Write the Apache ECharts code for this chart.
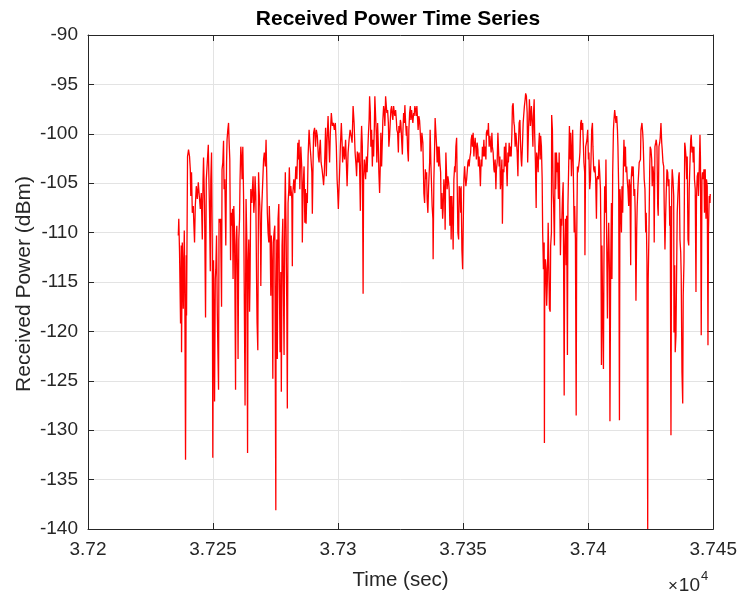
<!DOCTYPE html>
<html>
<head>
<meta charset="utf-8">
<script src="https://cdn.jsdelivr.net/npm/echarts@6/dist/echarts.min.js"></script>
<style>html,body{margin:0;padding:0;background:#fff}#c{width:740px;height:596px}</style>
</head>
<body>
<div id="c"></div>
<script>
const titleText = 'Received Power Time Series';
const xName = 'Time (sec)';
const yName = 'Received Power (dBm)';
const xMin = 37200, xMax = 37450, xStep = 50;
const yMin = -140, yMax = -90, yStep = 5;
const xExponent = 4;

const timeSec = [
37236.1,37236.3,37236.6,37237.0,37237.3,37237.4,37237.7,37237.9,37238.1,37238.5,
37238.7,37239.0,37239.3,37239.4,37239.8,37240.2,37240.6,37240.9,37241.1,37241.4,
37241.7,37242.1,37242.3,37242.6,37242.9,37243.3,37243.7,37244.1,37244.5,37244.9,
37245.3,37245.7,37246.0,37246.2,37246.6,37247.0,37247.3,37247.7,37248.1,37248.3,
37248.6,37248.9,37249.1,37249.4,37249.7,37249.9,37250.2,37250.5,37250.6,37250.9,
37251.1,37251.4,37251.7,37251.9,37252.2,37252.4,37252.7,37253.0,37253.4,37253.6,
37253.9,37254.2,37254.4,37254.7,37255.1,37255.4,37255.6,37255.9,37256.2,37256.4,
37256.7,37257.0,37257.2,37257.5,37257.8,37258.0,37258.3,37258.6,37259.0,37259.2,
37259.5,37259.8,37260.0,37260.3,37260.6,37260.8,37261.1,37261.4,37261.6,37261.9,
37262.2,37262.4,37262.8,37263.1,37263.2,37263.5,37263.8,37264.0,37264.3,37264.6,
37264.8,37265.1,37265.5,37265.8,37266.0,37266.3,37266.6,37266.8,37267.1,37267.4,
37267.6,37267.9,37268.2,37268.4,37268.7,37269.0,37269.1,37269.4,37269.8,37270.2,
37270.5,37270.9,37271.2,37271.5,37271.7,37272.0,37272.3,37272.5,37272.8,37273.1,
37273.3,37273.6,37273.9,37274.1,37274.4,37274.7,37274.9,37275.1,37275.2,37275.5,
37275.7,37276.0,37276.3,37276.5,37276.8,37277.1,37277.3,37277.6,37277.9,37278.1,
37278.4,37278.7,37278.9,37279.2,37279.5,37279.7,37280.0,37280.3,37280.5,37280.8,
37281.1,37281.5,37281.7,37281.9,37282.3,37282.7,37283.1,37283.5,37283.9,37284.1,
37284.4,37284.7,37285.1,37285.5,37285.7,37286.0,37286.4,37286.7,37286.9,37287.2,
37287.5,37287.7,37288.0,37288.4,37288.8,37289.1,37289.5,37289.7,37290.0,37290.2,
37290.6,37291.0,37291.3,37291.7,37292.1,37292.4,37292.6,37292.9,37293.2,37293.6,
37294.0,37294.2,37294.5,37294.8,37295.0,37295.3,37295.6,37296.0,37296.2,37296.6,
37296.9,37297.3,37297.7,37298.1,37298.5,37298.9,37299.3,37299.6,37299.8,37300.1,
37300.4,37300.6,37300.9,37301.3,37301.6,37301.8,37302.2,37302.6,37303.0,37303.3,
37303.6,37304.0,37304.4,37304.8,37305.2,37305.6,37306.0,37306.4,37306.8,37307.2,
37307.4,37307.7,37308.1,37308.4,37308.6,37308.9,37309.2,37309.4,37309.7,37310.0,
37310.2,37310.5,37310.8,37311.0,37311.3,37311.6,37311.8,37312.1,37312.4,37312.6,
37312.9,37313.1,37313.4,37313.7,37313.9,37314.2,37314.5,37314.7,37315.0,37315.3,
37315.5,37315.8,37316.1,37316.3,37316.6,37316.9,37317.1,37317.4,37317.7,37317.9,
37318.2,37318.5,37318.7,37319.0,37319.3,37319.5,37319.8,37320.1,37320.3,37320.6,
37320.9,37321.1,37321.4,37321.7,37321.9,37322.2,37322.5,37322.7,37323.0,37323.3,
37323.5,37323.8,37324.1,37324.3,37324.6,37324.9,37325.1,37325.4,37325.7,37325.9,
37326.2,37326.5,37326.7,37327.0,37327.3,37327.5,37327.8,37328.1,37328.3,37328.6,
37328.9,37329.1,37329.4,37329.6,37329.9,37330.2,37330.4,37330.7,37331.0,37331.2,
37331.5,37331.8,37332.0,37332.3,37332.6,37332.8,37333.2,37333.5,37333.9,37334.3,
37334.6,37334.9,37335.1,37335.4,37335.6,37335.9,37336.2,37336.6,37336.8,37337.1,
37337.4,37337.6,37337.9,37338.0,37338.3,37338.6,37338.8,37339.1,37339.4,37339.6,
37339.9,37340.2,37340.4,37340.7,37341.0,37341.2,37341.5,37341.8,37342.0,37342.3,
37342.6,37342.8,37343.1,37343.4,37343.6,37343.9,37344.2,37344.4,37344.7,37345.0,
37345.2,37345.5,37345.8,37346.0,37346.3,37346.6,37346.8,37347.1,37347.4,37347.6,
37347.9,37348.2,37348.4,37348.7,37349.0,37349.2,37349.5,37349.8,37350.0,37350.3,
37350.6,37350.8,37351.1,37351.4,37351.6,37351.9,37352.2,37352.4,37352.7,37353.0,
37353.2,37353.5,37353.7,37354.0,37354.3,37354.5,37354.8,37355.1,37355.3,37355.6,
37355.9,37356.1,37356.4,37356.7,37356.9,37357.2,37357.5,37357.7,37358.0,37358.3,
37358.5,37358.8,37359.1,37359.3,37359.6,37359.9,37360.1,37360.4,37360.7,37360.9,
37361.2,37361.5,37361.7,37362.0,37362.3,37362.5,37362.8,37363.1,37363.3,37363.6,
37363.9,37364.1,37364.4,37364.7,37364.9,37365.2,37365.5,37365.7,37366.0,37366.3,
37366.5,37366.8,37367.1,37367.3,37367.6,37367.9,37368.1,37368.4,37368.7,37368.9,
37369.2,37369.5,37369.7,37370.0,37370.3,37370.5,37370.8,37371.1,37371.3,37371.6,
37371.9,37372.1,37372.4,37372.7,37372.9,37373.2,37373.4,37373.7,37374.0,37374.2,
37374.5,37374.8,37375.0,37375.3,37375.6,37375.8,37376.1,37376.4,37376.5,37376.9,
37377.3,37377.6,37377.9,37378.1,37378.4,37378.6,37378.9,37379.2,37379.4,37379.7,
37380.0,37380.2,37380.5,37380.8,37381.0,37381.3,37381.6,37381.8,37382.1,37382.4,
37382.5,37382.6,37382.9,37383.2,37383.4,37383.7,37384.0,37384.2,37384.5,37384.8,
37385.0,37385.3,37385.4,37385.7,37386.0,37386.2,37386.5,37386.8,37387.0,37387.3,
37387.6,37387.8,37388.1,37388.4,37388.6,37388.9,37389.2,37389.4,37389.7,37390.0,
37390.2,37390.4,37390.6,37390.9,37391.2,37391.4,37391.7,37391.9,37392.2,37392.5,
37392.8,37393.0,37393.3,37393.6,37393.8,37394.1,37394.4,37394.6,37394.9,37395.2,
37395.4,37395.7,37395.9,37396.2,37396.5,37396.7,37397.0,37397.3,37397.5,37397.8,
37398.1,37398.3,37398.6,37398.7,37399.0,37399.3,37399.5,37399.8,37400.1,37400.3,
37400.6,37400.9,37401.1,37401.4,37401.7,37401.9,37402.2,37402.5,37402.7,37403.0,
37403.3,37403.5,37403.8,37404.1,37404.3,37404.6,37404.9,37405.1,37405.3,37405.5,
37405.8,37406.1,37406.3,37406.6,37406.9,37407.1,37407.4,37407.7,37407.9,37408.2,
37408.5,37408.7,37409.0,37409.3,37409.5,37409.8,37410.1,37410.3,37410.6,37410.9,
37411.1,37411.4,37411.7,37411.9,37412.2,37412.5,37412.7,37413.0,37413.3,37413.5,
37413.8,37414.1,37414.3,37414.6,37414.9,37415.1,37415.4,37415.6,37415.9,37416.2,
37416.4,37416.7,37417.0,37417.2,37417.5,37417.8,37418.0,37418.3,37418.6,37418.8,
37419.1,37419.4,37419.6,37419.9,37420.2,37420.4,37420.9,37421.1,37421.5,37421.8,
37422.0,37422.4,37422.7,37423.0,37423.2,37423.5,37423.8,37424.0,37424.3,37424.6,
37424.8,37425.1,37425.4,37425.6,37425.9,37426.2,37426.4,37426.7,37427.0,37427.2,
37427.5,37427.8,37428.0,37428.3,37428.6,37428.8,37429.1,37429.4,37429.6,37429.9,
37430.2,37430.4,37430.7,37431.0,37431.2,37431.5,37431.8,37432.0,37432.3,37432.6,
37432.8,37433.1,37433.4,37433.6,37433.9,37434.2,37434.3,37434.6,37434.8,37435.1,
37435.4,37435.6,37435.9,37436.2,37436.4,37436.7,37437.0,37437.2,37437.5,37437.8,
37438.0,37438.3,37438.6,37438.8,37439.1,37439.4,37439.6,37439.9,37440.2,37440.4,
37440.7,37441.0,37441.2,37441.5,37441.8,37442.0,37442.3,37442.5,37442.8,37443.1,
37443.3,37443.6,37443.9,37444.1,37444.4,37444.7,37444.9,37445.2,37445.5,37445.7,
37446.0,37446.3,37446.5,37446.8,37447.1,37447.3,37447.6,37447.9,37448.1,37448.4,
37448.7,37448.8
];

const powerDbm = [
-110.3,-108.6,-112,-119.2,-111.3,-122.1,-111,-113.3,-117.7,-109.8,
-115.4,-133,-112.3,-118.4,-102.3,-101.6,-102.3,-103.6,-106.3,-103.9,
-108,-107.3,-109,-111,-107.3,-105.3,-106.6,-104.9,-106.3,-107.6,
-106,-110.7,-104.6,-102.4,-107.3,-118.6,-104.6,-102.9,-101.1,-103.9,
-108,-113.9,-104.6,-101.9,-111.7,-132.8,-112.8,-122.4,-127.1,-114.7,
-113.7,-110.3,-118,-121.4,-125.9,-108.6,-109,-108.6,-117.5,-103.6,
-102.9,-100.7,-105.6,-104.6,-111.3,-102.9,-100.6,-99.6,-98.9,-100.6,
-102.6,-112.8,-108,-109.3,-107.6,-114.7,-107.3,-110,-125.9,-111.3,
-109.3,-114.7,-122.8,-110.7,-108.6,-104.6,-101.3,-102.6,-104.6,-101.3,
-106.3,-113.3,-127.5,-111.3,-106.6,-110.7,-132.3,-113.3,-110.7,-118,
-114.7,-105.6,-107,-105.3,-104.3,-108,-106.6,-104.3,-106.3,-114.7,
-119.1,-121.9,-103.9,-105.6,-107.3,-111.3,-115.4,-108,-105.3,-102.6,
-101.9,-103.3,-100.6,-104.6,-108,-110,-111,-107.3,-110.3,-116.4,
-110.3,-113.3,-124.8,-111,-110,-109.3,-124.8,-138.1,-118,-110.7,
-122.8,-108.6,-107.1,-114.7,-122.1,-114,-126.1,-111.3,-108.6,-114.7,
-122.4,-107.6,-103.9,-109.7,-118,-127.8,-107,-105.6,-103.4,-106.3,
-105.3,-106.6,-113.4,-106,-104.6,-106,-103.3,-104.6,-100.9,-102.6,
-100.6,-105.6,-101.3,-103.6,-111,-105.3,-103.3,-109,-105.6,-109.1,
-106,-107,-102.3,-99.6,-101.3,-102.3,-103.9,-108.1,-102.9,-99.9,
-99.4,-101.3,-99.6,-100.2,-102.3,-102.9,-101.6,-100.6,-102.9,-103.6,
-104.6,-105.2,-103.9,-101.3,-99.4,-104.3,-100.6,-98.2,-100.2,-102.9,
-99.9,-97.9,-99.2,-98.9,-99.6,-98.9,-101.3,-104.6,-105.6,-107.6,
-105.3,-103.9,-101.3,-98.9,-100.9,-102.9,-101.3,-102.6,-100.6,-102.9,
-105.3,-101.9,-100.6,-99.6,-100.2,-100.9,-97.2,-98.9,-101.9,-103.3,
-104.3,-101.8,-102.9,-101.9,-103.4,-107.8,-100.9,-99.2,-101.3,-116.2,
-104.6,-102.6,-103.6,-104.6,-102.3,-103.9,-102.3,-100.2,-98.6,-96.2,
-97.9,-101.3,-99.6,-103.3,-100.6,-102.3,-99.2,-96.2,-96.2,-100.2,
-102.9,-98.9,-101.3,-103.9,-106,-102.9,-99.9,-103.3,-100.6,-98.6,
-97.2,-97.9,-99.2,-96.2,-96,-97.9,-97.6,-98.9,-101.3,-100.2,
-98.6,-97.6,-97.2,-98.2,-98.6,-97.2,-97.9,-98.2,-97.6,-98.6,
-99.6,-99.9,-101.9,-99.2,-99.9,-98.6,-98.9,-100.6,-102.1,-99.9,
-97.9,-98.9,-97.1,-98.9,-100.2,-99.2,-101.6,-102.8,-99.6,-97.9,
-97.2,-98.6,-97.6,-98.2,-98.9,-97.9,-98.2,-97.2,-97.6,-98.2,
-97.2,-98.6,-99.6,-98.2,-98.7,-99.6,-101.8,-99.9,-100.9,-106,
-107,-103.6,-104.6,-103.9,-106.6,-108,-105.3,-102.9,-99.6,-102.9,
-102.9,-107.3,-108.6,-112.7,-104.6,-101.3,-98.4,-98.6,-101.3,-102.9,
-101.3,-103.3,-101.3,-102.9,-103.9,-107.6,-106,-108.6,-107.6,-104.6,
-106,-109.7,-101.9,-104.3,-105.6,-104.3,-104.9,-105.6,-109.3,-106.3,
-110.7,-106.3,-108.6,-111.7,-104.6,-103.3,-103.9,-101.3,-100.4,-104.6,
-110,-110.7,-105.3,-105.6,-108,-105.3,-111.7,-113.7,-110,-104.6,
-103.3,-104.3,-105.3,-104.6,-103.9,-102.9,-102.6,-103.3,-102.4,-101.9,
-100.6,-100.1,-101.3,-99.9,-102.3,-101.3,-100.4,-101.6,-102.6,-100.9,
-101.6,-103.3,-102.3,-103.9,-105.3,-102.6,-103.3,-101.3,-102.3,-100.6,
-102.3,-101.3,-102.6,-99.9,-99.6,-100.2,-98.9,-101.3,-100.2,-100.9,
-101.9,-99.9,-101.3,-101.9,-103.6,-103.9,-102.6,-105.6,-103.6,-102.9,
-99.9,-101.3,-103.3,-102.3,-105.6,-104.6,-102.6,-109.1,-103.6,-103.9,
-101.3,-103.3,-100.9,-102.9,-105.3,-101.9,-102.9,-100.9,-102.3,-101.3,
-102.3,-99.9,-97.2,-96.9,-98.9,-99.2,-101.3,-99.9,-100.6,-101.9,
-104.3,-101.3,-98.9,-98.6,-100.6,-102.6,-103.3,-101.3,-98.9,-98.2,
-97.2,-96.5,-95.9,-96.2,-97.9,-102.9,-99.9,-97.6,-96.5,-99.2,
-97.2,-98.9,-101.3,-98.2,-96.5,-99.9,-102.9,-107.5,-101.9,-102.6,
-103.9,-101.3,-99.9,-102.6,-100.2,-101.3,-104.6,-110,-113.7,-111,
-131.3,-117.7,-112.7,-113.7,-117.4,-114.7,-109,-112,-117.7,-118,
-111.3,-110,-98.1,-99.6,-106,-107.3,-111.3,-101.9,-105.6,-101.9,
-103.9,-102.9,-106.6,-101.9,-106.3,-112.3,-108.6,-109.3,-106.6,-104.9,
-114.7,-126.5,-112,-108.6,-113.3,-108.3,-122.4,-107.3,-103.3,-99.2,
-102.6,-99.9,-104.3,-101.3,-99.6,-104.6,-110,-107.3,-110.7,-128.5,
-111,-103.3,-103.9,-103.3,-102.6,-101.9,-98.9,-98.6,-99.6,-98.9,
-101.3,-102.9,-103.9,-112.3,-101.3,-100.9,-100.6,-99.6,-102.6,-101.9,
-105.6,-104.6,-102.9,-99.6,-98.9,-101.3,-103.6,-103.9,-103.3,-104.6,
-108.6,-104.6,-104.3,-104.6,-102.6,-103.9,-105.6,-110.7,-123.4,-111.3,
-118,-123.8,-113,-105.3,-108,-102.6,-110.7,-118.7,-113,-109,
-114,-129.1,-113.3,-107,-114.7,-103.9,-99.6,-98.6,-97.6,-97.4,
-98.9,-98.2,-99.6,-101.3,-105.6,-129,-105.6,-107.3,-110,-105.3,
-108,-102.9,-100.6,-103.3,-101.3,-103.9,-103.3,-104.6,-105.6,-107.3,
-104.6,-105.3,-113.3,-104.6,-103.3,-104.3,-103.3,-106.3,-105.6,-108,
-116.9,-109.7,-107.3,-105.3,-103.9,-102.9,-102.6,-99.6,-98.9,-99.9,
-100.9,-104.6,-105.6,-110,-108,-113,-140,-114.7,-110,-103.6,
-101.3,-101.6,-102.6,-105.3,-103.3,-104.3,-111,-101.3,-100.9,-100.6,
-101.3,-107.3,-108.3,-101.3,-100.9,-100.4,-98.9,-100.9,-101.6,-102.9,
-103.3,-107.3,-111.7,-108,-106,-103.6,-103.9,-105.3,-104.6,-109.3,
-107.3,-130.5,-105.6,-103.6,-104.6,-106.3,-120.1,-113.3,-122.1,-120.4,
-113,-108,-106,-104.3,-103.9,-110.7,-112,-114.4,-124.1,-127.3,
-116.4,-113,-100.9,-101.3,-102.3,-104.6,-102.3,-110.7,-111.3,-105.6,
-102.9,-100.6,-100.1,-101.9,-101.3,-102.9,-101.3,-104.6,-105.6,-116,
-106.6,-104.3,-103.9,-106.3,-103.6,-100.1,-102.6,-120.4,-104.6,-103.9,
-104.6,-103.6,-108,-103.6,-108.6,-104.6,-105.3,-121.4,-109.7,-106.3,
-107,-106.1
];

const seriesData = timeSec.map((t, i) => [t, powerDbm[i]]);
const FONT = "'Liberation Sans', Arial, Helvetica, sans-serif";
const INK = '#262626';

function fmtX(v) {
  return String(parseFloat((v / Math.pow(10, xExponent)).toFixed(4)));
}

const chart = echarts.init(document.getElementById('c'), null, {renderer: 'canvas'});
const commonX = {type: 'value', min: xMin, max: xMax, interval: xStep};
const commonY = {type: 'value', min: yMin, max: yMax, interval: yStep};
chart.setOption({
  animation: false,
  backgroundColor: '#ffffff',
  grid: {left: 88, right: 26, top: 35, bottom: 65, containLabel: false},
  xAxis: [
    Object.assign({}, commonX, {
      position: 'bottom',
      name: xName, nameLocation: 'middle', nameGap: 41,
      nameTextStyle: {fontFamily: FONT, fontSize: 20.5, color: INK},
      axisLine: {show: true, lineStyle: {color: INK, width: 1}},
      axisTick: {show: true, inside: true, length: 6, lineStyle: {color: INK}},
      axisLabel: {formatter: fmtX, fontFamily: FONT, fontSize: 19, color: INK, margin: 11},
      splitLine: {show: true, lineStyle: {color: '#e3e3e3', width: 1}}
    }),
    Object.assign({}, commonX, {
      position: 'top',
      axisLine: {show: true, lineStyle: {color: INK, width: 1}},
      axisTick: {show: true, inside: true, length: 6, lineStyle: {color: INK}},
      axisLabel: {show: false},
      splitLine: {show: false}
    })
  ],
  yAxis: [
    Object.assign({}, commonY, {
      position: 'left',
      axisLine: {show: true, lineStyle: {color: INK, width: 1}},
      axisTick: {show: true, inside: true, length: 6, lineStyle: {color: INK}},
      axisLabel: {fontFamily: FONT, fontSize: 19, color: INK, margin: 10},
      splitLine: {show: true, lineStyle: {color: '#e3e3e3', width: 1}}
    }),
    Object.assign({}, commonY, {
      position: 'right',
      axisLine: {show: true, lineStyle: {color: INK, width: 1}},
      axisTick: {show: true, inside: true, length: 6, lineStyle: {color: INK}},
      axisLabel: {show: false},
      splitLine: {show: false}
    })
  ],
  series: [{
    type: 'line',
    xAxisIndex: 0, yAxisIndex: 0,
    data: seriesData,
    showSymbol: false,
    symbol: 'none',
    lineStyle: {color: '#ff0000', width: 1.3},
    clip: true,
    silent: true
  }],
  graphic: [
    {type: 'text', style: {text: titleText, x: 398, y: 19, textAlign: 'center', textVerticalAlign: 'middle', fill: '#000', font: 'bold 21px ' + FONT}, z: 10},
    {type: 'text', x: 24, y: 284, rotation: Math.PI / 2,
     style: {text: yName, x: 0, y: 0, textAlign: 'center', textVerticalAlign: 'middle', fill: INK, font: '21px ' + FONT}},
    {type: 'text', style: {text: '\u00d7', x: 673, y: 586, textAlign: 'center', textVerticalAlign: 'middle', fill: INK, font: '17px ' + FONT}},
    {type: 'text', style: {text: '10', x: 700, y: 586, textAlign: 'right', textVerticalAlign: 'middle', fill: INK, font: '19px ' + FONT}},
    {type: 'text', style: {text: String(xExponent), x: 701, y: 576, textAlign: 'left', textVerticalAlign: 'middle', fill: INK, font: '13px ' + FONT}}
  ]
});
</script>
</body>
</html>
